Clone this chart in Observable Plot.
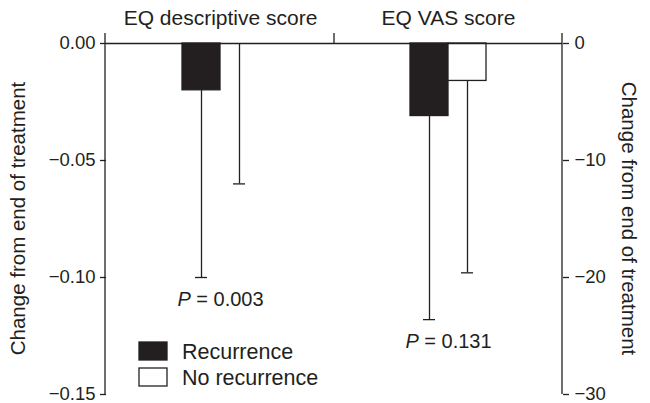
<!DOCTYPE html>
<html>
<head>
<meta charset="utf-8">
<script src="https://cdn.jsdelivr.net/npm/d3@7"></script>
<script src="https://cdn.jsdelivr.net/npm/@observablehq/plot@0.6"></script>
<style>
  html, body { margin: 0; padding: 0; background: #fff; }
  #chart svg { display: block; }
</style>
</head>
<body>
<div id="chart"></div>
<script>
const groups = ["EQ descriptive score", "EQ VAS score"];
const series = ["Recurrence", "No recurrence"];
const descriptiveMean = [-0.02, 0];
const descriptiveLower = [-0.10, -0.06];
const vasMean = [-6.2, -3.2];
const vasLower = [-23.6, -19.6];
const pLabels = ["P = 0.003", "P = 0.131"];
const leftTicks = [0, -0.05, -0.10, -0.15];
const rightTicks = [0, -10, -20, -30];
const axisTitle = "Change from end of treatment";

const ink = "#231f20";
const font = "'Liberation Sans', Arial, sans-serif";
// VAS values are drawn on the shared scale: -30 on the right axis ↔ -0.15 on the left
const factor = leftTicks[3] / rightTicks[3];

const rows = [];
series.forEach((s, i) => {
  rows.push({group: groups[0], series: s, mean: descriptiveMean[i], lower: descriptiveLower[i]});
  rows.push({group: groups[1], series: s, mean: vasMean[i] * factor, lower: vasLower[i] * factor});
});
const pRows = [
  {group: groups[0], label: pLabels[0], y: descriptiveLower[0]},
  {group: groups[1], label: pLabels[1], y: vasLower[0] * factor}
];

const W = 650, H = 403;
const plot = Plot.plot({
  width: W, height: H,
  marginLeft: 105, marginRight: 88, marginTop: 43, marginBottom: 9,
  style: {fontFamily: font, fontSize: "18px", color: ink, background: "white"},
  fx: {domain: groups, padding: 0, label: null},
  x: {domain: series, paddingInner: 0, paddingOuter: 1.93, axis: null},
  y: {domain: [-0.15, 0], axis: null},
  color: {domain: series, range: [ink, "white"]},
  marks: [
    Plot.axisFx({anchor: "top", tickSize: 0, tickPadding: 19, label: null, fontSize: 21}),
    Plot.axisY({anchor: "left", ticks: leftTicks, tickFormat: d3.format(".2f"), tickSize: 6, tickPadding: 5, label: null, fontSize: 18.5, strokeWidth: 1.3}),
    Plot.axisY({anchor: "right", ticks: leftTicks, tickFormat: d => d3.format("d")(Math.round(d / factor)), tickSize: 6, tickPadding: 6, label: null, fontSize: 18.5, strokeWidth: 1.3}),
    Plot.ruleX(rows, {fx: "group", x: "series", y1: "mean", y2: "lower", stroke: ink, strokeWidth: 1.3}),
    Plot.tickY(rows, {fx: "group", x: "series", y: "lower", insetLeft: 13, insetRight: 13, stroke: ink, strokeWidth: 1.3}),
    Plot.barY(rows, {fx: "group", x: "series", y: "mean", fill: "series", stroke: ink, strokeWidth: 1.3}),
    Plot.ruleY([0], {stroke: ink, strokeWidth: 1.5}),
    Plot.text(pRows, {fx: "group", y: "y", text: "label", dy: 22, fontSize: 20, fill: ink})
  ]
});

const svg = d3.select(plot);
const y = plot.scale("y");
const fx = plot.scale("fx");
const y0 = y.apply(0), yb = y.apply(leftTicks[3]);
const xl = 105, xr = W - 88, xm = fx.apply(groups[1]);
const ext = 10;
const g = svg.append("g").attr("stroke", ink).attr("stroke-width", 1.3).attr("fill", "none");
g.append("line").attr("x1", xl).attr("x2", xl).attr("y1", y0 - ext).attr("y2", yb);
g.append("line").attr("x1", xr).attr("x2", xr).attr("y1", y0 - ext).attr("y2", yb);
g.append("line").attr("x1", xm).attr("x2", xm).attr("y1", y0 - ext).attr("y2", y0);

// axis titles
const midY = (y0 + yb) / 2;
svg.append("text").attr("transform", `translate(18,${midY}) rotate(-90)`)
  .attr("text-anchor", "middle").attr("dy", "0.35em").attr("fill", ink)
  .attr("font-family", font).attr("font-size", 20.5).text(axisTitle);
svg.append("text").attr("transform", `translate(629,${midY}) rotate(90)`)
  .attr("text-anchor", "middle").attr("dy", "0.35em").attr("fill", ink)
  .attr("font-family", font).attr("font-size", 20.5).text(axisTitle);

// italic P
plot.querySelectorAll("text").forEach(t => {
  const s = t.textContent;
  if (/^P = /.test(s)) {
    t.textContent = "";
    const a = document.createElementNS("http://www.w3.org/2000/svg", "tspan");
    a.setAttribute("font-style", "italic"); a.textContent = "P";
    t.appendChild(a);
    t.appendChild(document.createTextNode(s.slice(1)));
  }
});

// legend
const lg = svg.append("g").attr("font-family", font).attr("font-size", 21.5).attr("fill", ink)
  .attr("text-anchor", "start");
series.forEach((s, i) => {
  const yy = 342 + i * 26;
  lg.append("rect").attr("x", 139).attr("y", yy).attr("width", 28).attr("height", 18)
    .attr("fill", i === 0 ? ink : "white").attr("stroke", ink).attr("stroke-width", 1.3);
  lg.append("text").attr("x", 182).attr("y", yy + 9).attr("dy", "0.35em").text(s);
});

document.getElementById("chart").appendChild(plot);
</script>
</body>
</html>
